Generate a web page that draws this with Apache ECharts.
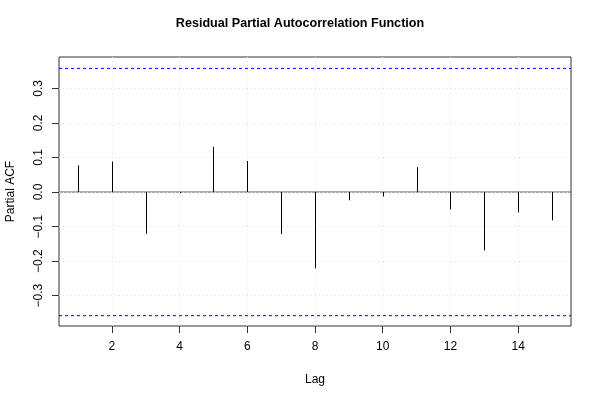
<!DOCTYPE html>
<html>
<head>
<meta charset="utf-8">
<script src="https://cdn.jsdelivr.net/npm/echarts@6/dist/echarts.min.js"></script>
<style>html,body{margin:0;padding:0;background:#fff;}#c{width:600px;height:400px;}</style>
</head>
<body>
<div id="c"></div>
<script>
var lags = [1,2,3,4,5,6,7,8,9,10,11,12,13,14,15];
var pacf = [0.077,0.088,-0.121,-0.003,0.131,0.090,-0.122,-0.221,-0.024,-0.013,0.072,-0.050,-0.169,-0.059,-0.082];
var xTicks = [2,4,6,8,10,12,14];
var yTicks = [-0.3,-0.2,-0.1,0,0.1,0.2,0.3];
var ciBound = 0.358;
var xRange = [0.44, 15.56];
var yRange = [-0.388, 0.391];

var chart = echarts.init(document.getElementById('c'));
var FONT = 'Liberation Sans, Arial, Helvetica, sans-serif';
var data = lags.map(function(l,i){return [l,pacf[i]];});
var grid = [];
xTicks.forEach(function(v){grid.push({xAxis:v});});
yTicks.forEach(function(v){grid.push({yAxis:v});});

function hline(y, color, type){
  return {type:'line',data:[[xRange[0],y],[xRange[1],y]],symbol:'none',silent:true,
    lineStyle:{color:color,type:type,width:1},itemStyle:{color:color},z:4};
}

chart.setOption({
  animation:false,
  backgroundColor:'#fff',
  title:{text:'Residual Partial Autocorrelation Function',left:'center',top:12,
    textStyle:{fontFamily:FONT,fontSize:12.6,fontWeight:'bold',color:'#000'}},
  grid:{left:59,right:29,top:57,bottom:74,show:true,borderColor:'#333',borderWidth:1,
    backgroundColor:'transparent',containLabel:false,outerBoundsMode:'none'},
  xAxis:{type:'value',min:xRange[0],max:xRange[1],
    name:'Lag',nameLocation:'middle',nameGap:48,
    nameTextStyle:{fontFamily:FONT,fontSize:12,color:'#000'},
    axisLine:{show:false,onZero:false},
    axisTick:{show:true,length:7,customValues:xTicks,lineStyle:{color:'#333'}},
    axisLabel:{customValues:xTicks,margin:15,fontFamily:FONT,fontSize:12,color:'#000'},
    splitLine:{show:false}},
  yAxis:{type:'value',min:yRange[0],max:yRange[1],
    name:'Partial ACF',nameLocation:'middle',nameGap:42,
    nameTextStyle:{fontFamily:FONT,fontSize:12,color:'#000'},
    axisLine:{show:false,onZero:false},
    axisTick:{show:true,length:7,customValues:yTicks,lineStyle:{color:'#333'}},
    axisLabel:{customValues:yTicks,rotate:90,margin:14,fontFamily:FONT,fontSize:12,color:'#000',
      formatter:function(v){return v.toFixed(1).replace('-','\u2212');}},
    splitLine:{show:false}},
  series:[
    {type:'custom',
     renderItem:function(params,api){
       var p0=api.coord([api.value(0),0]);
       var p1=api.coord([api.value(0),api.value(1)]);
       return {type:'line',shape:{x1:Math.round(p0[0])+0.5,y1:p0[1],x2:Math.round(p1[0])+0.5,y2:p1[1]},
         style:{stroke:'#000',lineWidth:1}};
     },
     data:data,z:5,
     markLine:{silent:true,symbol:'none',label:{show:false},
       lineStyle:{color:'#e0e0e0',type:[1,3],width:1},data:grid}},
    hline(ciBound,'#0000ff',[3,3]),
    hline(-ciBound,'#0000ff',[3,3]),
    hline(0,'#555','solid')
  ]
});
</script>
</body>
</html>
